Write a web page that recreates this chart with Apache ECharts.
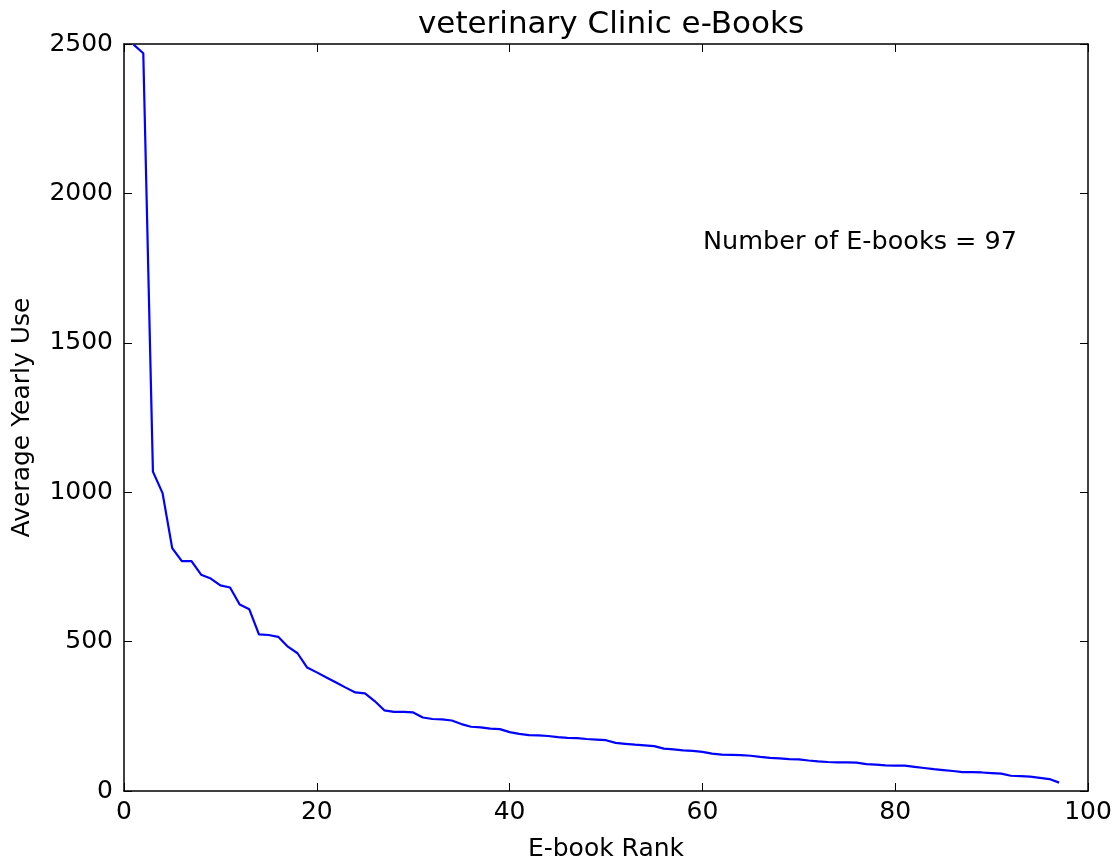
<!DOCTYPE html>
<html>
<head>
<meta charset="utf-8">
<script src="https://cdn.jsdelivr.net/npm/echarts@6/dist/echarts.min.js"></script>
<style>
html,body{margin:0;padding:0;background:#fff;}
#chart{width:1118px;height:867px;}
</style>
</head>
<body>
<div id="chart"></div>
<script>
var titleText = "veterinary Clinic e-Books";
var xLabel = "E-book Rank";
var yLabel = "Average Yearly Use";
var annotation = "Number of E-books = 97";
var usage = [
  2498, 2469, 1069, 997, 813, 769, 769, 724, 711, 688,
  681, 624, 608, 524, 522, 516, 483, 461, 413, 397,
  380, 363, 346, 330, 327, 301, 270, 265, 265, 263,
  246, 241, 240, 236, 224, 215, 213, 209, 207, 197,
  191, 187, 186, 184, 180, 178, 177, 174, 172, 170,
  161, 158, 155, 153, 150, 142, 139, 136, 134, 131,
  125, 122, 121, 120, 118, 114, 111, 109, 107, 106,
  102, 99, 97, 96, 96, 95, 90, 88, 86, 85,
  85, 81, 77, 73, 70, 67, 63, 63, 62, 60,
  58, 51, 50, 48, 44, 40, 28
];
var ranks = usage.map(function(v, i){ return i + 1; });
var seriesData = ranks.map(function(r, i){ return [r, usage[i]]; });

var FONT = "DejaVu Sans";
var chart = echarts.init(document.getElementById('chart'), null, {renderer: 'canvas'});
var axisLineStyle = {color: '#000', width: 1.5};
var tickStyle = {color: '#000', width: 1};
function plain(v){ return String(v); }
chart.setOption({
  backgroundColor: '#fff',
  animation: false,
  title: {
    text: titleText,
    left: 606, top: 4, textAlign: 'center',
    textStyle: {fontFamily: FONT, fontSize: 31, fontWeight: 'normal', color: '#000'}
  },
  grid: {left: 124, right: 30, top: 44, bottom: 74, containLabel: false},
  xAxis: [{
    type: 'value', min: 0, max: 100, interval: 20, position: 'bottom',
    name: xLabel, nameLocation: 'middle', nameGap: 46,
    nameTextStyle: {fontFamily: FONT, fontSize: 25, color: '#000'},
    axisLine: {show: true, onZero: false, lineStyle: axisLineStyle},
    axisTick: {show: true, inside: true, length: 8, lineStyle: tickStyle},
    axisLabel: {fontFamily: FONT, fontSize: 25, color: '#000', margin: 9, formatter: plain},
    splitLine: {show: false}
  }, {
    type: 'value', min: 0, max: 100, interval: 20, position: 'top',
    axisLine: {show: true, onZero: false, lineStyle: axisLineStyle},
    axisTick: {show: true, inside: true, length: 8, lineStyle: tickStyle},
    axisLabel: {show: false},
    splitLine: {show: false}
  }],
  yAxis: [{
    type: 'value', min: 0, max: 2500, interval: 500, position: 'left',
    name: yLabel, nameLocation: 'middle', nameGap: 89, nameRotate: 90,
    nameTextStyle: {fontFamily: FONT, fontSize: 25, color: '#000'},
    axisLine: {show: true, onZero: false, lineStyle: axisLineStyle},
    axisTick: {show: true, inside: true, length: 8, lineStyle: tickStyle},
    axisLabel: {fontFamily: FONT, fontSize: 25, color: '#000', margin: 11, formatter: plain},
    splitLine: {show: false}
  }, {
    type: 'value', min: 0, max: 2500, interval: 500, position: 'right',
    axisLine: {show: true, onZero: false, lineStyle: axisLineStyle},
    axisTick: {show: true, inside: true, length: 8, lineStyle: tickStyle},
    axisLabel: {show: false},
    splitLine: {show: false}
  }],
  graphic: [{
    type: 'text', left: 703, top: 229,
    style: {text: annotation, font: '25.5px "DejaVu Sans"', fill: '#000'}
  }],
  series: [{
    type: 'line', xAxisIndex: 0, yAxisIndex: 0,
    data: seriesData, showSymbol: false, symbol: 'none',
    lineStyle: {color: '#0000ff', width: 2.2},
    clip: true
  }]
});
</script>
</body>
</html>
